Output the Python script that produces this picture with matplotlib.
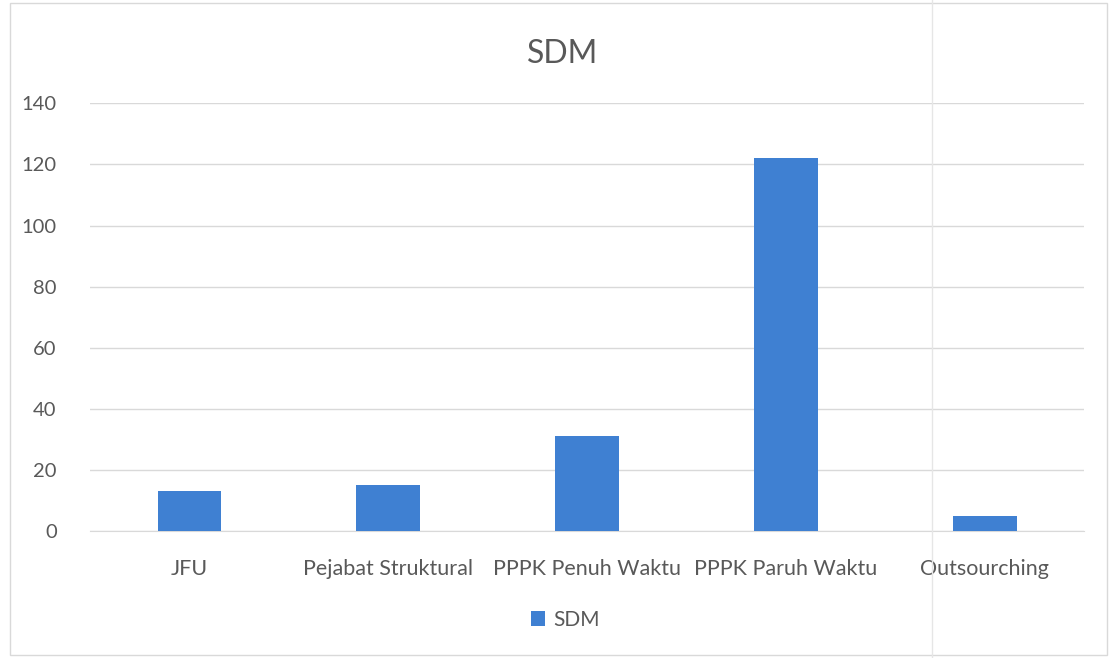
import matplotlib.pyplot as plt

kategori = ["JFU", "Pejabat Struktural", "PPPK Penuh Waktu", "PPPK Paruh Waktu", "Outsourching"]
jumlah = [13, 15, 31, 122, 5]
yticks = [0, 20, 40, 60, 80, 100, 120, 140]

plt.rcParams['font.family'] = ['Lato', 'DejaVu Sans']
warna_teks = '#595959'

fig = plt.figure(figsize=(11.11, 6.58), dpi=100)
ax = fig.add_axes([0.081, 0.193, 0.895, 0.650])

x = range(len(kategori))
ax.bar(x, jumlah, width=0.32, color='#3f80d2', label='SDM', zorder=3)

ax.set_xlim(-0.5, len(kategori) - 0.5)
ax.set_ylim(0, 140)
ax.set_yticks(yticks)
ax.set_xticks(list(x))
ax.set_xticklabels(kategori)
ax.tick_params(axis='both', length=0, colors=warna_teks)
ax.tick_params(axis='x', pad=20, labelsize=15.5)
ax.tick_params(axis='y', pad=24, labelsize=14.5)
ax.grid(axis='y', color='#d9d9d9', linewidth=1, zorder=0)
for s in ['top', 'right', 'left']:
    ax.spines[s].set_visible(False)
ax.spines['bottom'].set_color('#d9d9d9')

fig.text(0.506, 0.918, "SDM", ha='center', va='center', fontsize=23, color=warna_teks)
ax.legend(loc='center', bbox_to_anchor=(0.478, -0.208), frameon=False,
          fontsize=15, handlelength=0.7, handleheight=0.7, labelcolor=warna_teks,
          handletextpad=0.4)

# garis tepi chart
fig.patches.append(plt.Rectangle((0.009, 0.004), 0.987, 0.992, transform=fig.transFigure,
                                 fill=False, edgecolor='#d9d9d9', linewidth=1))
# garis lipatan hasil scan
fig.add_artist(plt.Line2D([0.839, 0.839], [0, 1], transform=fig.transFigure,
                          color='#e6e6e6', linewidth=1))

fig.savefig("out.png", dpi=100)
